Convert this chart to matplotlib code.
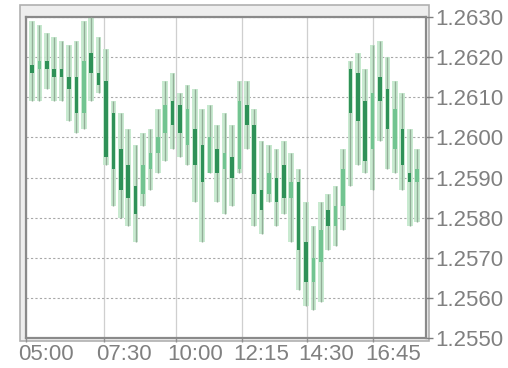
import matplotlib
matplotlib.use("Agg")
import matplotlib.pyplot as plt
import matplotlib.transforms as mtransforms
from matplotlib.patches import Rectangle

# ---- data (15-minute bars starting 05:00) ----
highs = [1.2629, 1.2628, 1.2626, 1.2625, 1.2624, 1.2623, 1.2624, 1.2629, 1.2630, 1.2625,
         1.2622, 1.2609, 1.2606, 1.2602, 1.2598, 1.2601, 1.2602, 1.2607, 1.2614, 1.2616,
         1.2611, 1.2613, 1.2612, 1.2607, 1.2608, 1.2603, 1.2606, 1.2603, 1.2614, 1.2614,
         1.2607, 1.2599, 1.2598, 1.2597, 1.2599, 1.2596, 1.2592, 1.2584, 1.2578, 1.2584,
         1.2586, 1.2588, 1.2597, 1.2619, 1.2621, 1.2617, 1.2623, 1.2624, 1.2620, 1.2614,
         1.2611, 1.2602, 1.2597]
lows = [1.2609, 1.2609, 1.2612, 1.2609, 1.2609, 1.2604, 1.2601, 1.2602, 1.2609, 1.2611,
        1.2593, 1.2583, 1.2580, 1.2578, 1.2574, 1.2583, 1.2587, 1.2591, 1.2594, 1.2597,
        1.2595, 1.2593, 1.2584, 1.2574, 1.2591, 1.2584, 1.2581, 1.2583, 1.2591, 1.2597,
        1.2578, 1.2576, 1.2584, 1.2578, 1.2581, 1.2574, 1.2562, 1.2558, 1.2557, 1.2559,
        1.2572, 1.2573, 1.2577, 1.2588, 1.2593, 1.2591, 1.2587, 1.2599, 1.2592, 1.2591,
        1.2587, 1.2578, 1.2579]
opens = [1.2618, 1.2617, 1.2619, 1.2617, 1.2617, 1.2615, 1.2615, 1.2606, 1.2621, 1.2616,
         1.2614, 1.2606, 1.2597, 1.2593, 1.2588, 1.2586, 1.2592, 1.2596, 1.2601, 1.2609,
         1.2608, 1.2598, 1.2602, 1.2598, 1.2591, 1.2597, 1.2592, 1.2595, 1.2592, 1.2608,
         1.2603, 1.2587, 1.2586, 1.2590, 1.2593, 1.2585, 1.2589, 1.2574, 1.2564, 1.2569,
         1.2582, 1.2578, 1.2583, 1.2617, 1.2616, 1.2609, 1.2597, 1.2615, 1.2612, 1.2597,
         1.2602, 1.2591, 1.2589]
closes = [1.2616, 1.2619, 1.2617, 1.2615, 1.2615, 1.2612, 1.2606, 1.2619, 1.2616, 1.2613,
          1.2595, 1.2592, 1.2587, 1.2585, 1.2581, 1.2593, 1.2596, 1.2600, 1.2608, 1.2603,
          1.2601, 1.2607, 1.2593, 1.2589, 1.2600, 1.2591, 1.2596, 1.2590, 1.2609, 1.2603,
          1.2586, 1.2582, 1.2591, 1.2584, 1.2585, 1.2589, 1.2572, 1.2564, 1.2570, 1.2577,
          1.2578, 1.2583, 1.2592, 1.2606, 1.2604, 1.2594, 1.2611, 1.2609, 1.2602, 1.2607,
          1.2593, 1.2589, 1.2592]

x_tick_pos = [-0.8, 9.7, 19.4, 28.3, 37.1, 46.1]
x_tick_labels = ["05:00", "07:30", "10:00", "12:15", "14:30", "16:45"]
y_ticks = [1.2550, 1.2560, 1.2570, 1.2580, 1.2590, 1.2600, 1.2610, 1.2620, 1.2630]
y_tick_labels = ["1.2550", "1.2560", "1.2570", "1.2580", "1.2590",
                 "1.2600", "1.2610", "1.2620", "1.2630"]

W, H = 508, 368
fig = plt.figure(figsize=(W / 100, H / 100), dpi=100)
fig.patch.set_facecolor("white")

# outer frame (in pixel coords -> figure fraction)
fig.patches.append(Rectangle((20 / W, 1 - 341 / H), (429 - 20) / W, (341 - 5) / H,
                             transform=fig.transFigure, facecolor="#eeeeee",
                             edgecolor="#b0b0b0", linewidth=1.2, zorder=0))

ax = fig.add_axes([26 / W, 1 - 338 / H, 400 / W, (338 - 17) / H])
ax.set_facecolor("white")
ax.set_zorder(1)

light = "#c2e8cb"
wick = "#93ad98"
up_c = "#72c491"
dn_c = "#2f9158"

n = len(highs)
for i in range(n):
    h, l, o, c = highs[i], lows[i], opens[i], closes[i]
    ax.add_patch(Rectangle((i - 0.38, l), 0.76, h - l, facecolor=light,
                           edgecolor="none", alpha=0.9, zorder=2))
    ax.vlines(i, l, h, color=wick, linewidth=1.0, zorder=3)
    lo, hi = min(o, c), max(o, c)
    ax.add_patch(Rectangle((i - 0.24, lo), 0.48, max(hi - lo, 0.00003),
                           facecolor=(up_c if c >= o else dn_c),
                           edgecolor="none", zorder=4))

ax.set_xlim(-0.8, 53.2)
ax.set_ylim(1.2550, 1.2630)

ax.set_xticks(x_tick_pos)
ax.set_xticklabels(x_tick_labels)
ax.set_yticks(y_ticks)
ax.set_yticklabels(y_tick_labels)
ax.yaxis.tick_right()

for lab in ax.get_xticklabels() + ax.get_yticklabels():
    lab.set_fontfamily("Liberation Sans")
    lab.set_fontsize(16)
    lab.set_color("#808080")

ax.tick_params(axis="x", length=3, width=1, color="#909090", pad=1)
ax.tick_params(axis="y", length=5, width=1, color="#808080", pad=1.5)

offset = mtransforms.ScaledTranslation(-8 / 100, 0, fig.dpi_scale_trans)
for lab in ax.get_xticklabels():
    lab.set_horizontalalignment("left")
    lab.set_transform(lab.get_transform() + offset)

ax.grid(axis="y", color="#a8a8a8", linestyle=(0, (2, 2)), linewidth=0.8, zorder=1)
ax.grid(axis="x", color="#cfcfcf", linestyle="-", linewidth=0.9, zorder=1)
ax.set_axisbelow(True)

for s in ax.spines.values():
    s.set_color("#8a8a8a")
    s.set_linewidth(1.6)

fig.savefig("out.png", dpi=100)
